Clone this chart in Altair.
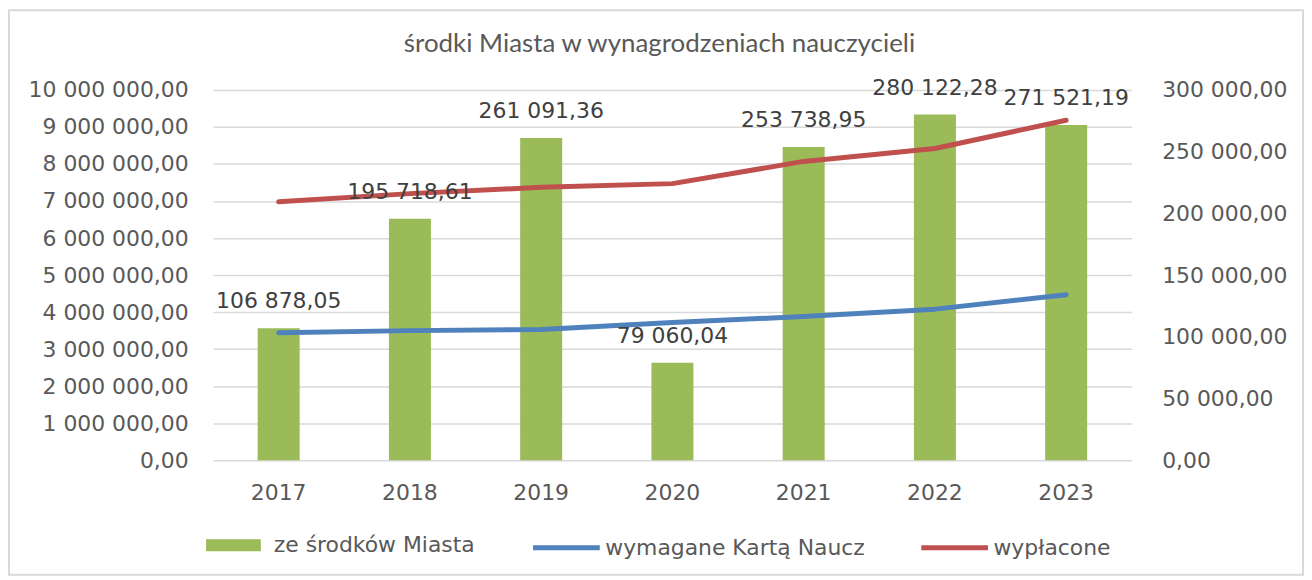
import altair as alt
import pandas as pd

years = ["2017", "2018", "2019", "2020", "2021", "2022", "2023"]
ze_srodkow_miasta = [106878.05, 195718.61, 261091.36, 79060.04, 253738.95, 280122.28, 271521.19]
wymagane_karta = [3440000, 3500000, 3530000, 3720000, 3880000, 4080000, 4470000]
wyplacone = [6980000, 7200000, 7370000, 7470000, 8070000, 8420000, 9180000]

bar_name = "ze środków Miasta"
blue_name = "wymagane Kartą Naucz"
red_name = "wypłacone"
left_ticks = [i * 1000000 for i in range(11)]
right_ticks = [i * 50000 for i in range(7)]

bars_df = pd.DataFrame({"rok": years, "wartosc": ze_srodkow_miasta, "seria": bar_name})
lines_df = pd.concat([
    pd.DataFrame({"rok": years, "wartosc": wymagane_karta, "seria": blue_name}),
    pd.DataFrame({"rok": years, "wartosc": wyplacone, "seria": red_name}),
])

TXT = "#595959"
FONT = "DejaVu Sans"

x_enc = alt.X("rok:N", scale=alt.Scale(paddingInner=0.68, paddingOuter=0.34),
              axis=alt.Axis(title=None, labelAngle=0, ticks=False, domain=False, grid=False,
                            labelFontSize=22, labelPadding=22, labelColor=TXT, labelFont=FONT))

border = alt.Chart(pd.DataFrame({"a": [0]})).mark_rect(
    fillOpacity=0, stroke="#d9d9d9", strokeWidth=2
).encode(x=alt.value(-205), x2=alt.value(1095), y=alt.value(-80), y2=alt.value(487))

bars = alt.Chart(bars_df).mark_bar().encode(
    x=x_enc,
    y=alt.Y("wartosc:Q", scale=alt.Scale(domain=[0, 300000], nice=False),
            axis=alt.Axis(orient="right", title=None, format=",.2f", values=right_ticks,
                          grid=False, ticks=False, domain=False, labelPadding=30,
                          labelFontSize=22, labelColor=TXT, labelFont=FONT)),
    fill=alt.Fill("seria:N", scale=alt.Scale(domain=[bar_name], range=["#9BBB59"]),
                  legend=alt.Legend(orient="none", legendX=-7, legendY=430, title=None,
                                    symbolType="M-1,-0.218H1V0.218H-1Z", symbolSize=3025,
                                    symbolStrokeWidth=0, labelOffset=13, labelLimit=500,
                                    labelFontSize=22, labelColor=TXT, labelFont=FONT)),
)

lines = alt.Chart(lines_df).mark_line(strokeWidth=5, strokeCap="round", strokeJoin="round").encode(
    x=x_enc,
    y=alt.Y("wartosc:Q", scale=alt.Scale(domain=[0, 10000000], nice=False),
            axis=alt.Axis(orient="left", title=None, format=",.2f", values=left_ticks,
                          grid=True, gridColor="#d9d9d9", gridWidth=1.5,
                          ticks=False, domain=False, labelPadding=25,
                          labelFontSize=22, labelColor=TXT, labelFont=FONT)),
    stroke=alt.Stroke("seria:N", scale=alt.Scale(domain=[blue_name, red_name], range=["#4F81BD", "#C0504D"]),
                      legend=alt.Legend(orient="none", legendX=319, legendY=424, title=None,
                                        direction="horizontal", symbolType="stroke",
                                        symbolSize=4489, symbolStrokeWidth=5, labelOffset=3,
                                        columnPadding=45, labelLimit=500,
                                        labelFontSize=22, labelColor=TXT, labelFont=FONT)),
    detail="seria:N",
)

labels = alt.Chart(bars_df).mark_text(dy=-27, fontSize=22, color="#404040", font=FONT, baseline="middle").encode(
    x=x_enc,
    y=alt.Y("wartosc:Q", scale=alt.Scale(domain=[0, 300000], nice=False), axis=None),
    text=alt.Text("wartosc:Q", format=",.2f"),
)

chart = alt.layer(border, bars, lines, labels).resolve_scale(
    y="independent", fill="independent", stroke="independent"
).properties(
    width=923, height=372,
    autosize=alt.AutoSizeParams(type="none"),
    padding={"left": 206, "top": 81, "right": 173, "bottom": 116},
    title=alt.TitleParams("środki Miasta w wynagrodzeniach nauczycieli", font="Lato", fontSize=26,
                          fontWeight="normal", color=TXT, anchor="middle", dx=-13, offset=-48),
).configure(
    locale={"number": {"decimal": ",", "thousands": " ", "grouping": [3], "currency": ["", " zł"]}},
    background="white",
).configure_view(stroke=None)

chart.save("out.html", embed_options={"renderer": "svg", "actions": False})
